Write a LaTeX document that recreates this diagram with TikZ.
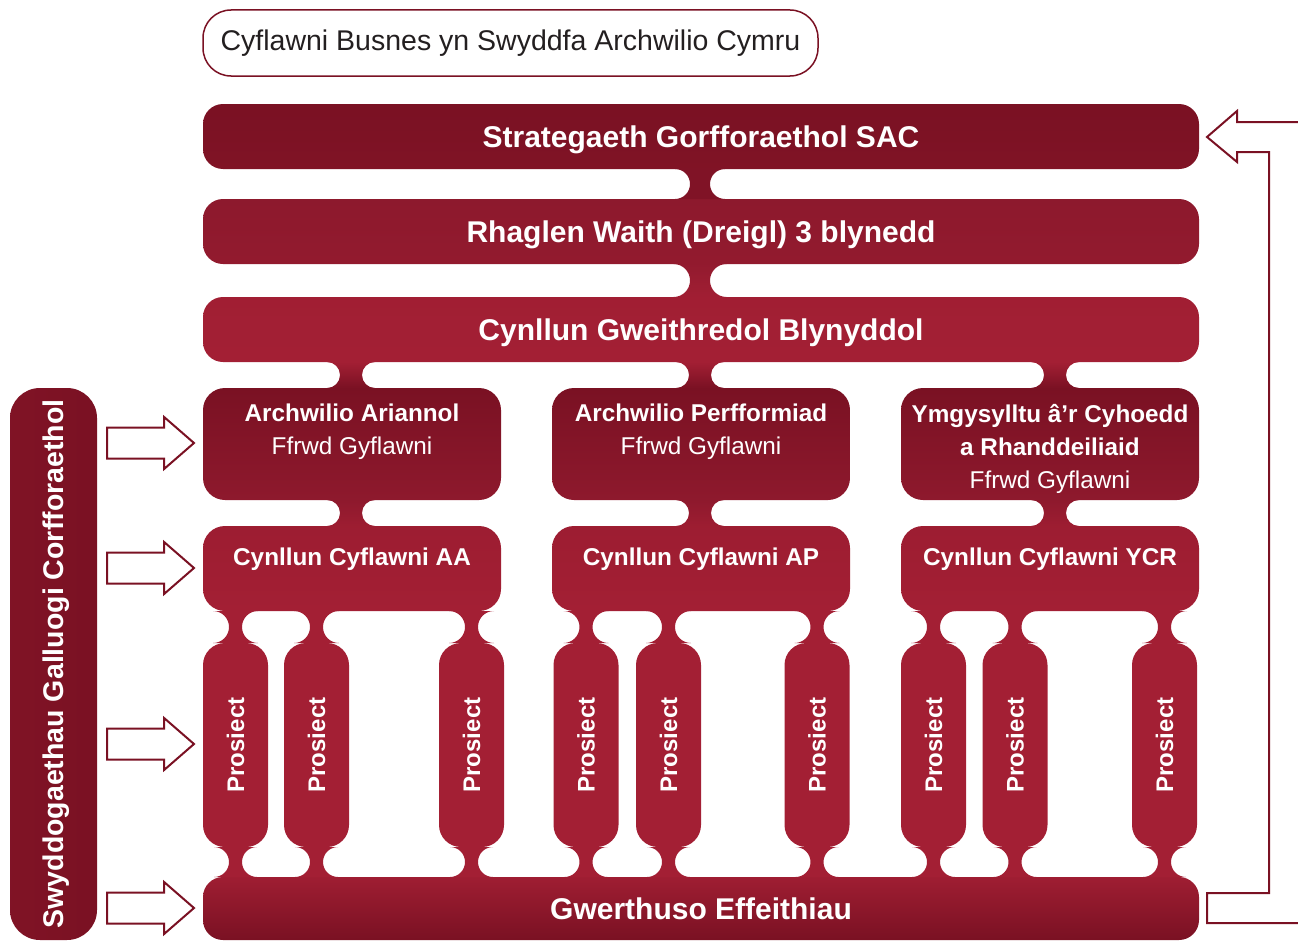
\documentclass[tikz,border=0pt]{standalone}
\usepackage{fontspec}
\setmainfont{Liberation Sans}
\usetikzlibrary{positioning,calc,shapes.arrows}

\definecolor{sacdark}{HTML}{7A1123}
\definecolor{sacmid}{HTML}{8E192D}
\definecolor{saclight}{HTML}{A31F34}
\definecolor{sactext}{HTML}{231F20}

% neck joining two boxes: bottom of upper, top of lower, x (node or point), half width, fill
\newcommand{\neck}[5]{%
  \path[#5] let \p1=(#1), \p2=(#2), \p3=(#3), \n1={(\y1-\y2)/2} in
    (\x3-#4-\n1,\y1) arc[start angle=90,end angle=-90,radius=\n1]
    -- (\x3+#4+\n1,\y2) arc[start angle=270,end angle=90,radius=\n1] -- cycle;}

\begin{document}
\begin{tikzpicture}[x=1pt,y=-1pt,every node/.style={outer sep=0pt}]
  \tikzstyle{bar}=[rectangle,rounded corners=20pt,minimum width=996,minimum height=65,
                   inner sep=0pt,text=white,text height=21pt,text depth=0pt,
                   font=\fontsize{30}{34}\selectfont\bfseries]
  \tikzstyle{stream}=[rectangle,rounded corners=22pt,minimum width=298,inner sep=0pt]
  \tikzstyle{head}=[inner sep=0pt,align=center,text=white,
                    font=\fontsize{24.3}{33}\selectfont\bfseries]
  \tikzstyle{proj}=[rectangle,rounded corners=22pt,rotate=90,minimum width=204,
                    minimum height=65,inner sep=0pt,fill=saclight,text=white,
                    text height=17pt,text depth=0pt,font=\fontsize{24}{28}\selectfont\bfseries]
  \tikzstyle{inarrow}=[single arrow,draw=sacdark,line width=2pt,fill=white,anchor=tip,
                       minimum height=87,inner sep=14.5pt,single arrow head extend=10.5pt,
                       single arrow tip angle=82,single arrow head indent=0pt]

  \useasboundingbox (0,0) rectangle (1298,942);

  \node[rectangle,draw=sacdark,line width=1.5pt,rounded corners=28pt,minimum width=615,
        minimum height=66,text=sactext,font=\fontsize{28.5}{34}\selectfont]
        (T) at (510.5,43) {Cyflawni Busnes yn Swyddfa Archwilio Cymru};

  \node[bar,top color=sacdark,bottom color=sacdark!85!saclight] (S) at (701,136.5) {Strategaeth Gorfforaethol SAC};
  \node[bar,top color=sacmid!95!sacdark,bottom color=sacmid!80!saclight] (R) at (701,231.5) {Rhaglen Waith (Dreigl) 3 blynedd};
  \node[bar,top color=saclight!90!sacmid,bottom color=saclight] (G) at (701,329.5) {Cynllun Gweithredol Blynyddol};

  \node[stream,minimum height=112,top color=sacdark,bottom color=sacmid] (A1) at (352,444) {};
  \node[stream,minimum height=112,top color=sacdark,bottom color=sacmid] (A2) at (701,444) {};
  \node[stream,minimum height=112,top color=sacdark,bottom color=sacmid] (A3) at (1050,444) {};
  \node[head,below=16pt of A1.north] (a1) {Archwilio Ariannol\\{\mdseries Ffrwd Gyflawni}};
  \node[head,below=16pt of A2.north] (a2) {Archwilio Perfformiad\\{\mdseries Ffrwd Gyflawni}};
  \node[head,below=16pt of A3.north] (a3) {Ymgysylltu â’r Cyhoedd\\a Rhanddeiliaid\\{\mdseries Ffrwd Gyflawni}};

  \node[stream,minimum height=85,top color=saclight!85!sacdark,bottom color=saclight] (C1) at (352,568.5) {};
  \node[stream,minimum height=85,top color=saclight!85!sacdark,bottom color=saclight] (C2) at (701,568.5) {};
  \node[stream,minimum height=85,top color=saclight!85!sacdark,bottom color=saclight] (C3) at (1050,568.5) {};
  \node[head,below=21.5pt of C1.north] (c1) {Cynllun Cyflawni AA};
  \node[head,below=21.5pt of C2.north] (c2) {Cynllun Cyflawni AP};
  \node[head,below=21.5pt of C3.north] (c3) {Cynllun Cyflawni YCR};

  \node[proj] (P1) at (235.5,745) {Prosiect};
  \node[proj] (P2) at (316.5,745) {Prosiect};
  \node[proj] (P3) at (471.5,745) {Prosiect};
  \node[proj] (P4) at (586,745) {Prosiect};
  \node[proj] (P5) at (668.5,745) {Prosiect};
  \node[proj] (P6) at (817,745) {Prosiect};
  \node[proj] (P7) at (933.5,745) {Prosiect};
  \node[proj] (P8) at (1015,745) {Prosiect};
  \node[proj] (P9) at (1164.5,745) {Prosiect};

  \node[bar,minimum height=63,top color=saclight!90!sacdark,bottom color=sacdark] (W) at (701,908.5) {Gwerthuso Effeithiau};

  \node[rectangle,rounded corners=30pt,rotate=90,minimum width=552,minimum height=87,
        left color=sacdark!85!saclight,right color=sacdark,text=white,inner sep=0pt,
        text height=20pt,text depth=0pt,font=\fontsize{28.5}{34}\selectfont\bfseries]
        (L) at (53.5,664) {Swyddogaethau Galluogi Corfforaethol};

  % necks (Prosiect boxes are turned: east is their top, west their bottom)
  \neck{S.south}{R.north}{700,0}{10pt}{fill=sacdark!70!sacmid}
  \neck{R.south}{G.north}{700,0}{10pt}{top color=sacmid!80!saclight,bottom color=saclight!90!sacmid}
  \neck{G.south}{A1.north}{351,0}{11pt}{top color=saclight,bottom color=sacdark}
  \neck{G.south}{A2.north}{700,0}{11pt}{top color=saclight,bottom color=sacdark}
  \neck{G.south}{A3.north}{1055,0}{11pt}{top color=saclight,bottom color=sacdark}
  \neck{A1.south}{C1.north}{351,0}{11pt}{top color=sacmid,bottom color=saclight!85!sacdark}
  \neck{A2.south}{C2.north}{700,0}{11pt}{top color=sacmid,bottom color=saclight!85!sacdark}
  \neck{A3.south}{C3.north}{1055,0}{11pt}{top color=sacmid,bottom color=saclight!85!sacdark}
  \neck{C1.south}{P1.east}{P1}{6.5pt}{fill=saclight}
  \neck{C1.south}{P2.east}{P2}{6.5pt}{fill=saclight}
  \neck{C1.south}{P3.east}{P3}{6.5pt}{fill=saclight}
  \neck{C2.south}{P4.east}{P4}{6.5pt}{fill=saclight}
  \neck{C2.south}{P5.east}{P5}{6.5pt}{fill=saclight}
  \neck{C2.south}{P6.east}{P6}{6.5pt}{fill=saclight}
  \neck{C3.south}{P7.east}{P7}{6.5pt}{fill=saclight}
  \neck{C3.south}{P8.east}{P8}{6.5pt}{fill=saclight}
  \neck{C3.south}{P9.east}{P9}{6.5pt}{fill=saclight}
  \neck{P1.west}{W.north}{P1}{6.5pt}{fill=saclight}
  \neck{P2.west}{W.north}{P2}{6.5pt}{fill=saclight}
  \neck{P3.west}{W.north}{P3}{6.5pt}{fill=saclight}
  \neck{P4.west}{W.north}{P4}{6.5pt}{fill=saclight}
  \neck{P5.west}{W.north}{P5}{6.5pt}{fill=saclight}
  \neck{P6.west}{W.north}{P6}{6.5pt}{fill=saclight}
  \neck{P7.west}{W.north}{P7}{6.5pt}{fill=saclight}
  \neck{P8.west}{W.north}{P8}{6.5pt}{fill=saclight}
  \neck{P9.west}{W.north}{P9}{6.5pt}{fill=saclight}

  % inputs from the left
  \node[inarrow] (i1) at (194,443) {};
  \node[inarrow] (i2) at (194,568) {};
  \node[inarrow] (i3) at (194,744) {};
  \node[inarrow] (i4) at (194,908) {};

  % feedback
  \draw[sacdark,line width=2pt]
    (1300,122) -- ($(S.east)+(38,-14.5)$) -- ($(S.east)+(38,-25.5)$) -- ($(S.east)+(8,0.5)$)
    -- ($(S.east)+(38,25.5)$) -- ($(S.east)+(38,15.5)$) -- ($(S.east)+(70,15.5)$)
    -- ($(W.east)+(70,-15.5)$) -- ($(W.east)+(8,-15.5)$) -- ($(W.east)+(8,14.5)$) -- (1300,923);
\end{tikzpicture}
\end{document}
